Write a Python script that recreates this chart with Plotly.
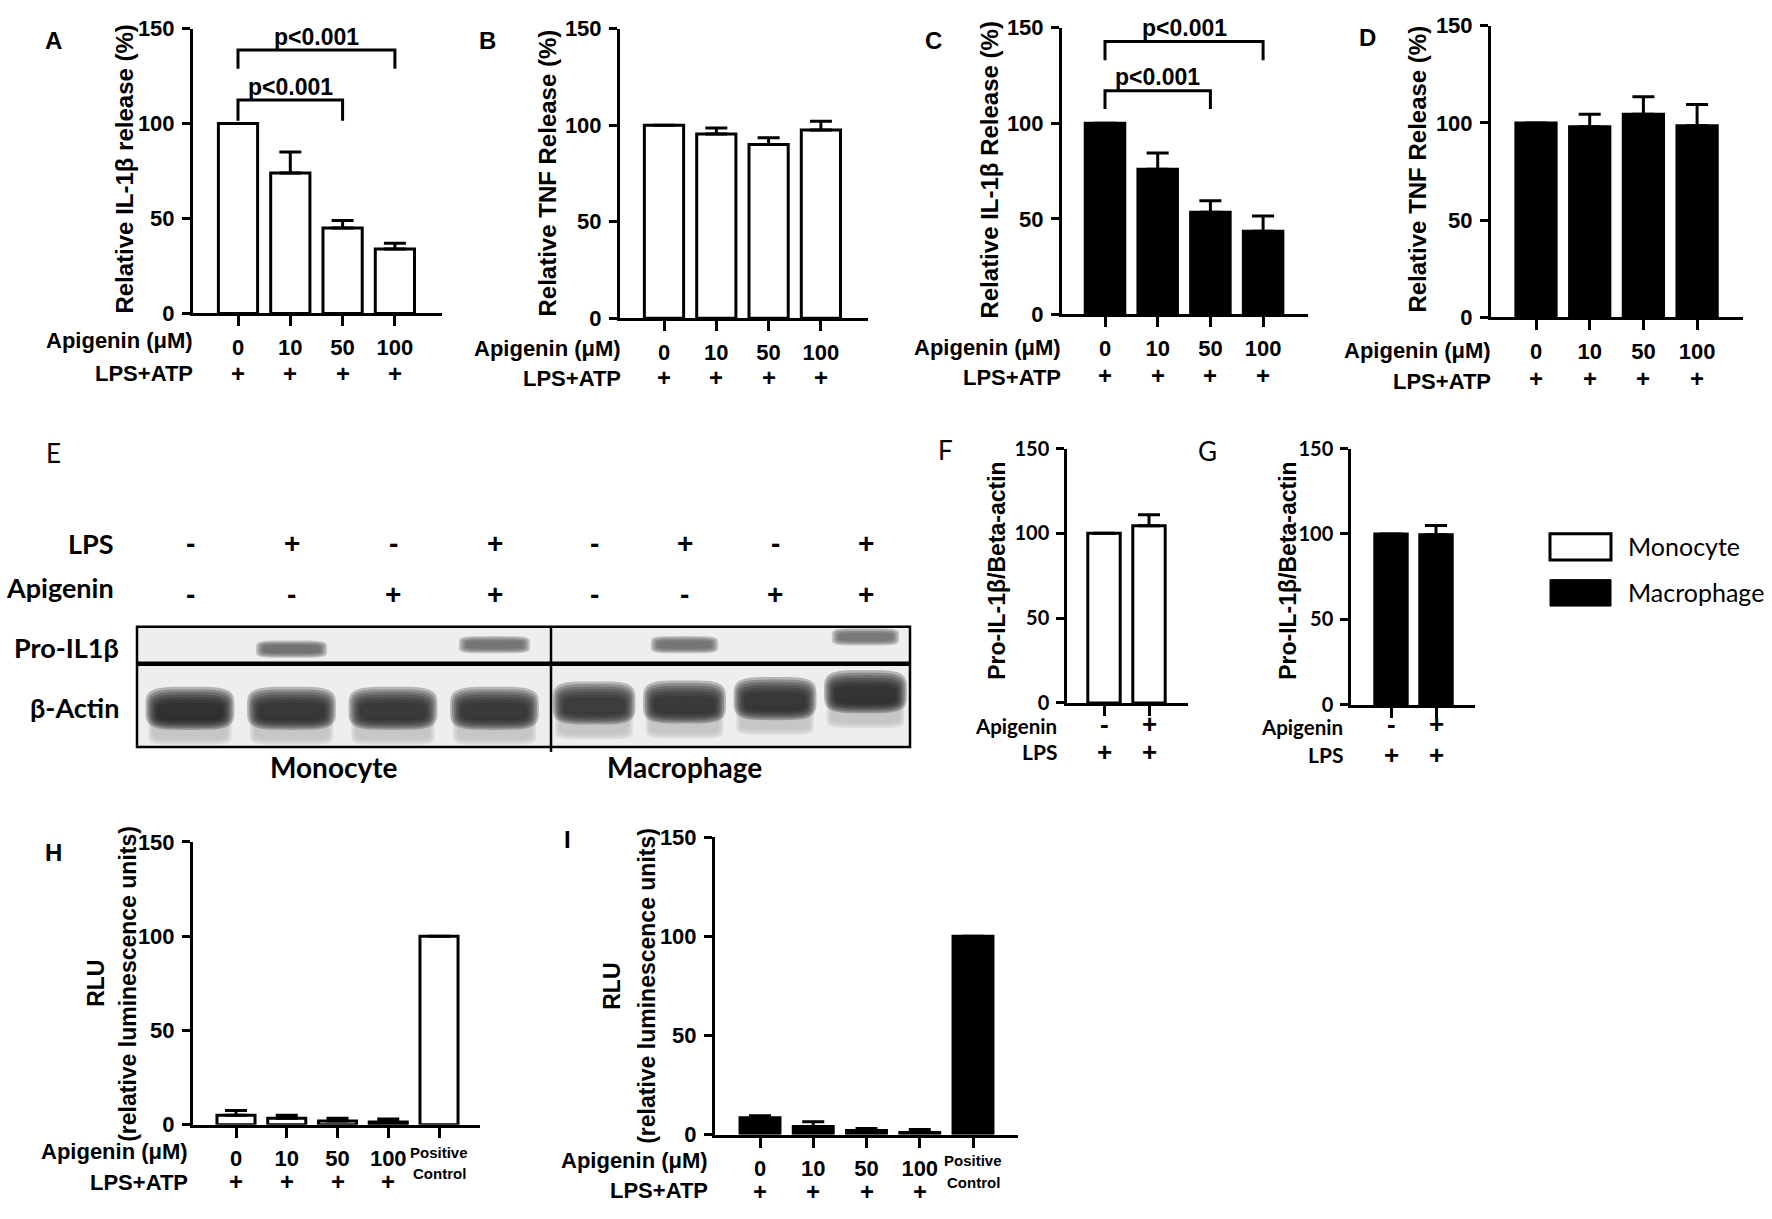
import math
import plotly.graph_objects as go

W, H = 1772, 1219
ARIAL = "Liberation Sans, Arial, sans-serif"
CAL = "Lato, Carlito, Calibri, sans-serif"

# ---------------- data ----------------
conc_labels = ["0", "10", "50", "100"]
conc_labels_rlu = ["0", "10", "50", "100", ""]
lps_atp_signs = ["+", "+", "+", "+"]
yticks = [0, 50, 100, 150]

A_mean = [100, 74, 45, 34]
A_sem = [0, 11, 4, 3]
B_mean = [100, 95.5, 90, 97.5]
B_sem = [0, 3, 3.5, 4.5]
C_mean = [100, 76, 53.5, 43.5]
C_sem = [0, 8.5, 6, 8]
D_mean = [100, 98, 104.5, 98.5]
D_sem = [0, 6.5, 9, 11]

F_mean = [100, 104.5]
F_sem = [0, 6.5]
G_mean = [100, 99.5]
G_sem = [0, 5.5]
FG_apigenin = ["-", "+"]
FG_lps = ["+", "+"]

H_mean = [5, 3.5, 2, 1.5, 100]
H_sem = [2.5, 1.5, 1.5, 1.5, 0]
I_mean = [8.5, 4, 2, 1, 100]
I_sem = [1, 2.5, 1, 1.5, 0]

# significance brackets: (from bar, to bar, leg bottom, bracket top)
A_sig = [(0, 2, 101.5, 112.4), (0, 3, 128.9, 138.7)]
C_sig = [(0, 2, 107.5, 117.0), (0, 3, 133.0, 142.8)]
sig_label = "p<0.001"

# western blot (panel E)
blot_lps = ["-", "+", "-", "+", "-", "+", "-", "+"]
blot_api = ["-", "-", "+", "+", "-", "-", "+", "+"]
pro_mono = [0.0, 0.62, 0.0, 0.60]
pro_macro = [0.0, 0.60, 0.0, 0.55]
actin_mono = [1.0, 0.88, 0.84, 0.82]
actin_macro = [0.76, 0.8, 0.86, 0.95]

# ---------------- layout geometry (pixels) ----------------
GEOM = {
    "A": dict(yx=193, top=16, bot=307, c0=238, sp=52.3, xend=442),
    "B": dict(yx=620, top=16, bot=312, c0=664, sp=52.3, xend=868),
    "C": dict(yx=1062, top=15, bot=308, c0=1105, sp=52.7, xend=1308),
    "D": dict(yx=1491, top=13, bot=311, c0=1536, sp=53.7, xend=1743),
    "F": dict(yx=1067, top=445, bot=705, c0=1104, sp=45, xend=1188),
    "G": dict(yx=1351, top=445, bot=707, c0=1391, sp=45, xend=1475),
    "H": dict(yx=193, top=847, bot=1136, c0=236, sp=50.75, xend=480),
    "I": dict(yx=715, top=842, bot=1146, c0=760, sp=53.25, xend=1018),
}

fig = go.Figure()
layout = dict(
    width=W, height=H, autosize=False,
    margin=dict(l=0, r=0, t=0, b=0),
    paper_bgcolor="white", plot_bgcolor="rgba(0,0,0,0)",
    showlegend=False,
)
annotations = []
shapes = []


def px(x):
    return x / W


def py(y):
    return 1 - y / H


def ann(text, x, y, size, xanchor="center", family=ARIAL, weight="bold", angle=0,
        xref="paper", yanchor="middle"):
    annotations.append(dict(
        text=text, x=x if xref != "paper" else px(x), y=py(y), xref=xref, yref="paper",
        showarrow=False, xanchor=xanchor, yanchor=yanchor, textangle=angle,
        font=dict(family=family, size=size, color="black", weight=weight),
    ))


def bar_panel(n, key, means, sems, fill, labels, small=False, bar_w=0.75):
    g = GEOM[key]
    lw = 2.5 if small else 3
    fsz = 20 if small else 22
    xs = list(range(len(means)))
    fig.add_trace(go.Bar(
        x=xs, y=means, width=bar_w,
        marker=dict(color=fill, line=dict(color="black", width=3)),
        error_y=dict(type="data", symmetric=False, array=sems, arrayminus=[0] * len(sems),
                     color="black", thickness=3, width=11),
        xaxis=f"x{n}", yaxis=f"y{n}", hoverinfo="skip", showlegend=False,
    ))
    layout[f"xaxis{n}"] = dict(
        domain=[px(g["yx"]), px(g["xend"])],
        range=[(g["yx"] - g["c0"]) / g["sp"], (g["xend"] - g["c0"]) / g["sp"]],
        anchor=f"y{n}", tickmode="array", tickvals=xs, ticktext=labels,
        showline=True, linecolor="black", linewidth=lw,
        ticks="outside", ticklen=10, tickwidth=lw, tickcolor="black",
        showgrid=False, zeroline=False, fixedrange=True,
        tickfont=dict(family=ARIAL, size=fsz, color="black", weight="bold"),
        ticklabelstandoff=2,
    )
    layout[f"yaxis{n}"] = dict(
        domain=[py(g["bot"]), py(g["top"])], range=[0, 150],
        anchor=f"x{n}", tickmode="array", tickvals=yticks,
        showline=True, linecolor="black", linewidth=lw,
        ticks="outside", ticklen=8, tickwidth=lw, tickcolor="black",
        showgrid=False, zeroline=False, fixedrange=True,
        tickfont=dict(family=CAL if small else ARIAL, size=fsz, color="black", weight="bold"),
        ticklabelstandoff=3,
    )


def brackets(n, sigs):
    for (i, j, leg, top) in sigs:
        fig.add_trace(go.Scatter(
            x=[i, i, j, j], y=[leg, top, top, leg], mode="lines",
            line=dict(color="black", width=3), xaxis=f"x{n}", yaxis=f"y{n}",
            hoverinfo="skip", showlegend=False, cliponaxis=False,
        ))
        annotations.append(dict(
            text=sig_label, x=(i + j) / 2, y=top + 7, xref=f"x{n}", yref=f"y{n}",
            showarrow=False, xanchor="center", yanchor="middle",
            font=dict(family=ARIAL, size=23, color="black", weight="bold"),
        ))


# ---------------- top row A-D ----------------
bar_panel(1, "A", A_mean, A_sem, "white", conc_labels)
bar_panel(2, "B", B_mean, B_sem, "white", conc_labels)
bar_panel(3, "C", C_mean, C_sem, "black", conc_labels)
bar_panel(4, "D", D_mean, D_sem, "black", conc_labels)
brackets(1, A_sig)
brackets(3, C_sig)

top_text = {
    1: dict(L=("A", 53, 28), T=(125, 160, "Relative IL-1β release (%)"), plus=368, api=(195, 335), lps=368),
    2: dict(L=("B", 487, 28), T=(548, 164, "Relative TNF Release (%)"), plus=372, api=(623, 343), lps=373),
    3: dict(L=("C", 933, 28), T=(990, 161, "Relative IL-1β Release (%)"), plus=370, api=(1063, 342), lps=372),
    4: dict(L=("D", 1367, 25), T=(1418, 160, "Relative TNF Release (%)"), plus=373, api=(1493, 345), lps=377),
}
for n, t in top_text.items():
    ann(t["L"][0], t["L"][1], t["L"][2], 24)
    ann(t["T"][2], t["T"][0], t["T"][1], 24, angle=-90)
    ann("Apigenin (μM)", t["api"][0], t["api"][1], 22, xanchor="right")
    ann("LPS+ATP", t["api"][0], t["lps"], 22, xanchor="right")
    for i, s in enumerate(lps_atp_signs):
        ann(s, i, t["plus"], 24, xref=f"x{n}")

# ---------------- F, G ----------------
bar_panel(5, "F", F_mean, F_sem, "white", ["", ""], small=True, bar_w=0.72)
bar_panel(6, "G", G_mean, G_sem, "black", ["", ""], small=True, bar_w=0.72)
fg_text = {
    5: dict(L=("F", 945, 447), T=(997, 570), api=(1059, 729), lps=755),
    6: dict(L=("G", 1207, 448), T=(1288, 570), api=(1345, 730), lps=758),
}
for n, t in fg_text.items():
    ann(t["L"][0], t["L"][1], t["L"][2], 26, family=CAL, weight="normal")
    ann("Pro-IL-1β/Beta-actin", t["T"][0], t["T"][1], 23, angle=-90)
    ann("Apigenin", t["api"][0], t["api"][1], 20.5, xanchor="right", family=CAL)
    ann("LPS", t["api"][0], t["lps"], 21, xanchor="right", family=CAL)
    for i, s in enumerate(FG_apigenin):
        ann(s, i, t["api"][1] - 3, 26, xref=f"x{n}")
    for i, s in enumerate(FG_lps):
        ann(s, i, t["lps"], 26, xref=f"x{n}")

# legend
shapes.append(dict(type="rect", xref="paper", yref="paper", x0=px(1550), x1=px(1611),
                   y0=py(559), y1=py(532), fillcolor="white", line=dict(color="black", width=3)))
shapes.append(dict(type="rect", xref="paper", yref="paper", x0=px(1550), x1=px(1611),
                   y0=py(606), y1=py(579), fillcolor="black", line=dict(color="black", width=1)))
ann("Monocyte", 1626, 545, 25, xanchor="left", family=CAL, weight="normal")
ann("Macrophage", 1626, 592, 25, xanchor="left", family=CAL, weight="normal")

# ---------------- H, I ----------------
bar_panel(7, "H", H_mean, H_sem, "white", conc_labels_rlu)
bar_panel(8, "I", I_mean, I_sem, "black", conc_labels_rlu)
hi_text = {
    7: dict(L=("H", 53, 858), R=(96, 992), R2=(128, 992), plus=1194, api=(190, 1163), lps=1195,
            pc=(1164, 1186)),
    8: dict(L=("I", 567, 845), R=(612, 995), R2=(647, 994), plus=1204, api=(710, 1172), lps=1203,
            pc=(1172, 1195)),
}
for n, t in hi_text.items():
    ann(t["L"][0], t["L"][1], t["L"][2], 24)
    ann("RLU", t["R"][0], t["R"][1], 23, angle=-90)
    ann("(relative luminescence units)", t["R2"][0], t["R2"][1], 23, angle=-90)
    ann("Apigenin (μM)", t["api"][0], t["api"][1], 22, xanchor="right")
    ann("LPS+ATP", t["api"][0], t["lps"], 22, xanchor="right")
    for i, s in enumerate(lps_atp_signs):
        ann(s, i, t["plus"], 24, xref=f"x{n}")
    ann("Positive", 4, t["pc"][0], 15, xref=f"x{n}")
    ann("Control", 4, t["pc"][1], 15, xref=f"x{n}")

# ---------------- E: western blot ----------------
BLOT_L, BLOT_R, BLOT_T, BLOT_M, BLOT_B, BLOT_DIV = 137, 910, 627, 665, 750, 551
halves = {
    9: dict(x0=BLOT_L, x1=BLOT_DIV, c0=190, sp=101.5, pro=pro_mono, act=actin_mono,
            pro_y=[100, 100, 100, 104.5], act_y=[38.5, 38.5, 38.5, 38.5], act_hw=0.43, pro_hw=0.33),
    10: dict(x0=BLOT_DIV, x1=BLOT_R, c0=594, sp=90.5, pro=pro_macro, act=actin_macro,
             pro_y=[104.5, 104.5, 104.5, 112.5], act_y=[44, 45, 48.5, 55.5], act_hw=0.45, pro_hw=0.35),
}


def band_path(cx, cy, hw, hh, n=5, pts=60):
    parts = []
    for k in range(pts):
        t = 2 * math.pi * k / pts
        c, s = math.cos(t), math.sin(t)
        x = cx + hw * (abs(c) ** (2 / n)) * (1 if c >= 0 else -1)
        y = cy + hh * (abs(s) ** (2 / n)) * (1 if s >= 0 else -1)
        parts.append(("M" if k == 0 else "L") + f"{x:.4f},{y:.4f}")
    return "".join(parts) + "Z"


def gray(v):
    v = max(0, min(255, int(v)))
    return f"rgb({v},{v},{v})"


def soft_band(xr, yr, cx, cy, hw, hh, color, levels, grow_w, grow_h, op, n=4, drop=0.0):
    for k in range(levels):
        f = 1 - k / max(1, levels - 1)
        shapes.append(dict(type="path", xref=xr, yref=yr, layer="above",
                           path=band_path(cx, cy - drop * (1 - f), hw * (1 + grow_w * f),
                                          hh * (1 + grow_h * f), n=n),
                           fillcolor=color, opacity=op, line=dict(width=0)))


for n, hv in halves.items():
    layout[f"xaxis{n}"] = dict(domain=[px(hv["x0"]), px(hv["x1"])],
                               range=[(hv["x0"] - hv["c0"]) / hv["sp"], (hv["x1"] - hv["c0"]) / hv["sp"]],
                               visible=False, anchor=f"y{n}", fixedrange=True)
    layout[f"yaxis{n}"] = dict(domain=[py(BLOT_B), py(BLOT_T)], range=[0, BLOT_B - BLOT_T],
                               visible=False, anchor=f"x{n}", fixedrange=True)
    xr, yr = f"x{n}", f"y{n}"
    shapes.append(dict(type="rect", xref="paper", yref="paper", x0=px(hv["x0"]), x1=px(hv["x1"]),
                       y0=py(BLOT_B), y1=py(BLOT_T), fillcolor="rgb(238,238,238)", line=dict(width=0),
                       layer="above"))
    for i, v in enumerate(hv["act"]):
        cy = hv["act_y"][i]
        hw = hv["act_hw"]
        # faint smear below the band
        soft_band(xr, yr, i, cy - 21, hw * 0.85, 10, gray(180), 3, 0.12, 0.5, 0.32, n=6)
        # main band, darker towards the lower centre
        soft_band(xr, yr, i, cy + 1, hw * 0.76, 9, gray(85 - 55 * v), 7, 0.34, 1.45, 0.28, n=4, drop=3)
    for i, v in enumerate(hv["pro"]):
        if v <= 0:
            continue
        cy = hv["pro_y"][i]
        hw = hv["pro_hw"]
        soft_band(xr, yr, i, cy, hw * 0.85, 4, gray(160 - 120 * v), 5, 0.25, 1.2, 0.28, n=5)

# blot frame lines
shapes.append(dict(type="rect", xref="paper", yref="paper", x0=px(BLOT_L), x1=px(BLOT_R),
                   y0=py(BLOT_B), y1=py(BLOT_T), line=dict(color="black", width=2.5), layer="above"))
shapes.append(dict(type="line", xref="paper", yref="paper", x0=px(BLOT_L), x1=px(BLOT_R),
                   y0=py(BLOT_M), y1=py(BLOT_M), line=dict(color="black", width=4.5), layer="above"))
shapes.append(dict(type="line", xref="paper", yref="paper", x0=px(BLOT_DIV), x1=px(BLOT_DIV),
                   y0=py(BLOT_T), y1=py(755), line=dict(color="black", width=2.5), layer="above"))

ann("E", 53, 450, 26, family=CAL, weight="normal")
ann("LPS", 116, 542, 27, xanchor="right", family=CAL)
ann("Apigenin", 116, 587, 27, xanchor="right", family=CAL)
ann("Pro-IL1β", 121, 648, 27, xanchor="right", family=CAL)
ann("β-Actin", 121, 710, 27, xanchor="right", family=CAL)
lane_sign_x = [0, 1, 2, 3]
for k in range(8):
    n = 9 if k < 4 else 10
    ann(blot_lps[k], lane_sign_x[k % 4], 542, 28, xref=f"x{n}")
    ann(blot_api[k], lane_sign_x[k % 4], 594, 28, xref=f"x{n}")
ann("Monocyte", 334, 770, 28, family=CAL)
ann("Macrophage", 684, 770, 28, family=CAL)

layout["annotations"] = annotations
layout["shapes"] = shapes
fig.update_layout(**layout)
fig.write_html(
    "out.html",
    config={"displayModeBar": False},
    post_script="document.body.style.margin='0';document.body.style.overflow='hidden';",
)
